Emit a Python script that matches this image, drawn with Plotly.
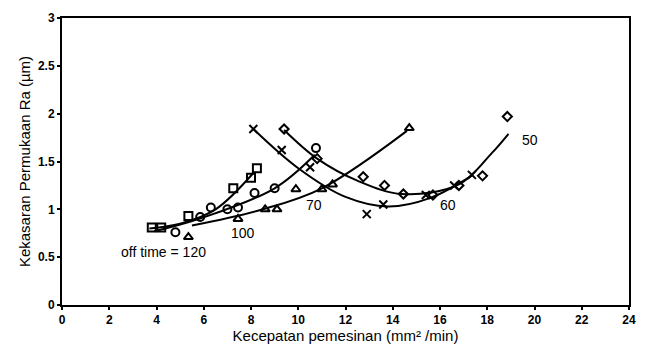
import plotly.graph_objects as go

# ---- data ----
# markers
x120 = [3.8, 4.2, 5.35, 7.25, 8.0, 8.25]
y120 = [0.81, 0.81, 0.93, 1.22, 1.33, 1.43]

x100 = [4.8, 5.85, 6.3, 7.0, 7.45, 8.15, 9.0, 10.75]
y100 = [0.76, 0.92, 1.02, 1.0, 1.02, 1.17, 1.22, 1.64]

x70 = [5.35, 7.45, 8.6, 9.1, 9.9, 11.0, 11.45, 14.7]
y70 = [0.71, 0.9, 1.0, 1.0, 1.21, 1.21, 1.26, 1.85]

x60 = [8.1, 9.3, 10.5, 12.9, 13.6, 15.4, 16.6, 17.35]
y60 = [1.84, 1.62, 1.44, 0.95, 1.05, 1.15, 1.25, 1.36]

x50 = [9.4, 10.8, 12.75, 13.65, 14.45, 15.7, 16.8, 17.8, 18.85]
y50 = [1.84, 1.53, 1.34, 1.25, 1.16, 1.15, 1.25, 1.35, 1.97]

# trend curves
lx120 = [3.7, 5.0, 6.5, 8.1]
ly120 = [0.80, 0.85, 1.0, 1.38]

lx100 = [3.9, 5.8, 9.0, 10.7]
ly100 = [0.77, 0.90, 1.22, 1.57]

lx70 = [5.5, 8.5, 11.0, 14.6]
ly70 = [0.83, 1.0, 1.22, 1.82]

lx60 = [8.1, 10.0, 12.0, 13.8, 15.6, 17.4]
ly60 = [1.84, 1.43, 1.13, 1.03, 1.12, 1.36]

lx50 = [9.4, 10.8, 12.5, 14.4, 16.8, 18.2, 18.9]
ly50 = [1.83, 1.53, 1.30, 1.16, 1.26, 1.59, 1.79]

labels = ["off time = 120", "100", "70", "60", "50"]
label_x = [4.3, 7.65, 10.65, 16.35, 19.8]
label_y = [0.55, 0.75, 1.05, 1.05, 1.73]

x_ticks = list(range(0, 25, 2))
y_ticks = [0, 0.5, 1, 1.5, 2, 2.5, 3]

FONT = "Liberation Sans, Arial, sans-serif"

fig = go.Figure()

for lx, ly in [(lx120, ly120), (lx100, ly100), (lx70, ly70), (lx60, ly60), (lx50, ly50)]:
    fig.add_trace(go.Scatter(x=lx, y=ly, mode="lines",
                             line=dict(color="black", width=2, shape="spline", smoothing=1.0),
                             showlegend=False, hoverinfo="skip"))

series = [
    (x120, y120, "square-open", 8),
    (x100, y100, "circle-open", 8),
    (x70, y70, "triangle-up-open", 8),
    (x60, y60, "x-thin-open", 8),
    (x50, y50, "diamond-open", 7),
]
for xs, ys, sym, sz in series:
    fig.add_trace(go.Scatter(x=xs, y=ys, mode="markers",
                             marker=dict(symbol=sym, size=sz, color="black",
                                         line=dict(color="black", width=2)),
                             showlegend=False))

for t, ax, ay in zip(labels, label_x, label_y):
    fig.add_annotation(x=ax, y=ay, xref="x", yref="y", text=t, showarrow=False,
                       font=dict(family=FONT, size=14, color="black"))

fig.update_layout(
    width=647, height=353,
    margin=dict(l=62, r=11, t=13, b=48),
    paper_bgcolor="white", plot_bgcolor="white",
    font=dict(family=FONT, color="black"),
    xaxis=dict(range=[0, 24], tickvals=x_ticks, showgrid=False, zeroline=False,
               showline=True, linecolor="black", linewidth=2, mirror=True,
               ticks="outside", ticklen=3, tickwidth=2, tickcolor="black",
               tickfont=dict(family=FONT, size=12, color="black", weight="bold"),
               title=dict(text="Kecepatan pemesinan (mm² /min)", standoff=2,
                          font=dict(family=FONT, size=15, color="black"))),
    yaxis=dict(range=[0, 3], tickvals=y_ticks, ticktext=[str(v) for v in y_ticks],
               showgrid=False, zeroline=False,
               showline=True, linecolor="black", linewidth=2, mirror=True,
               ticks="outside", ticklen=3, tickwidth=2, tickcolor="black",
               tickfont=dict(family=FONT, size=12, color="black", weight="bold"),
               title=dict(text="Kekasaran Permukaan Ra (µm)", standoff=4,
                          font=dict(family=FONT, size=15, color="black"))),
)

fig.write_html("out.html")
